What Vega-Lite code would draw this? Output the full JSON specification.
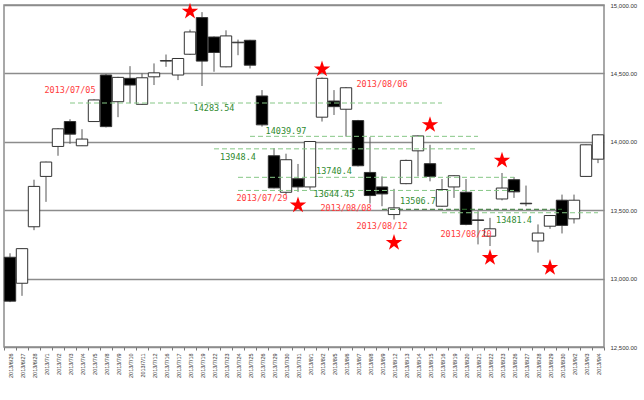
{
  "$schema": "https://vega.github.io/schema/vega-lite/v6.json",
  "width": 600,
  "height": 342,
  "autosize": {"type": "none"},
  "padding": {"left": 4, "top": 5, "right": 40, "bottom": 53},
  "background": "white",
  "config": {
    "view": {"stroke": "#8c8c8c", "strokeWidth": 1.5},
    "font": "Liberation Sans"
  },
  "datasets": {
    "candles": [
      {"date": "2013/6/26", "open": 13156, "high": 13185, "low": 12828, "close": 12835},
      {"date": "2013/6/27", "open": 12966, "high": 13220, "low": 12874, "close": 13219},
      {"date": "2013/6/28", "open": 13379, "high": 13723, "low": 13354, "close": 13674},
      {"date": "2013/7/1", "open": 13747, "high": 13855, "low": 13561, "close": 13852},
      {"date": "2013/7/2", "open": 13966, "high": 14100, "low": 13898, "close": 14095},
      {"date": "2013/7/3", "open": 14148, "high": 14165, "low": 13985, "close": 14056},
      {"date": "2013/7/4", "open": 13971, "high": 14092, "low": 13970, "close": 14020},
      {"date": "2013/7/5", "open": 14148, "high": 14310, "low": 14145, "close": 14306},
      {"date": "2013/7/8", "open": 14488, "high": 14495, "low": 14105, "close": 14111},
      {"date": "2013/7/9", "open": 14293, "high": 14475, "low": 14180, "close": 14471},
      {"date": "2013/7/10", "open": 14464, "high": 14553, "low": 14282, "close": 14415},
      {"date": "2013/7/11", "open": 14274, "high": 14500, "low": 14270, "close": 14468},
      {"date": "2013/7/12", "open": 14475, "high": 14573, "low": 14415, "close": 14504},
      {"date": "2013/7/16", "open": 14590, "high": 14638, "low": 14548, "close": 14594},
      {"date": "2013/7/17", "open": 14488, "high": 14612, "low": 14451, "close": 14609},
      {"date": "2013/7/18", "open": 14640, "high": 14820, "low": 14635, "close": 14803},
      {"date": "2013/7/19", "open": 14908, "high": 14948, "low": 14408, "close": 14590},
      {"date": "2013/7/22", "open": 14766, "high": 14770, "low": 14512, "close": 14653},
      {"date": "2013/7/23", "open": 14548, "high": 14815, "low": 14545, "close": 14774},
      {"date": "2013/7/24", "open": 14724, "high": 14747, "low": 14633, "close": 14728},
      {"date": "2013/7/25", "open": 14742, "high": 14745, "low": 14536, "close": 14560},
      {"date": "2013/7/26", "open": 14335, "high": 14378, "low": 14111, "close": 14124},
      {"date": "2013/7/29", "open": 13898, "high": 13954, "low": 13660, "close": 13663},
      {"date": "2013/7/30", "open": 13631, "high": 13913, "low": 13614, "close": 13869},
      {"date": "2013/7/31", "open": 13730, "high": 13838, "low": 13634, "close": 13670},
      {"date": "2013/8/1", "open": 13670, "high": 14005, "low": 13650, "close": 14002},
      {"date": "2013/8/2", "open": 14180, "high": 14470, "low": 14148, "close": 14464},
      {"date": "2013/8/5", "open": 14298, "high": 14378, "low": 14196, "close": 14257},
      {"date": "2013/8/6", "open": 14238, "high": 14400, "low": 14038, "close": 14395},
      {"date": "2013/8/7", "open": 14155, "high": 14160, "low": 13820, "close": 13825},
      {"date": "2013/8/8", "open": 13776, "high": 14034, "low": 13549, "close": 13607},
      {"date": "2013/8/9", "open": 13670, "high": 13747, "low": 13529, "close": 13619},
      {"date": "2013/8/12", "open": 13468, "high": 13656, "low": 13432, "close": 13517},
      {"date": "2013/8/13", "open": 13694, "high": 13870, "low": 13690, "close": 13864},
      {"date": "2013/8/14", "open": 13934, "high": 14046, "low": 13747, "close": 14043},
      {"date": "2013/8/15", "open": 13840, "high": 13978, "low": 13711, "close": 13747},
      {"date": "2013/8/16", "open": 13529, "high": 13728, "low": 13525, "close": 13651},
      {"date": "2013/8/19", "open": 13670, "high": 13755, "low": 13590, "close": 13752},
      {"date": "2013/8/20", "open": 13631, "high": 13728, "low": 13390, "close": 13396},
      {"date": "2013/8/21", "open": 13429, "high": 13492, "low": 13250, "close": 13425},
      {"date": "2013/8/22", "open": 13310, "high": 13444, "low": 13238, "close": 13364},
      {"date": "2013/8/23", "open": 13582, "high": 13772, "low": 13572, "close": 13662},
      {"date": "2013/8/26", "open": 13723, "high": 13743, "low": 13590, "close": 13634},
      {"date": "2013/8/27", "open": 13551, "high": 13680, "low": 13529, "close": 13547},
      {"date": "2013/8/28", "open": 13275, "high": 13396, "low": 13190, "close": 13333},
      {"date": "2013/8/29", "open": 13383, "high": 13465, "low": 13364, "close": 13461},
      {"date": "2013/8/30", "open": 13573, "high": 13614, "low": 13330, "close": 13389},
      {"date": "2013/9/2", "open": 13437, "high": 13614, "low": 13403, "close": 13573},
      {"date": "2013/9/3", "open": 13747, "high": 13980, "low": 13745, "close": 13978},
      {"date": "2013/9/4", "open": 13873, "high": 14055, "low": 13844, "close": 14051}
    ],
    "levels": [
      {"level": 14283.54, "start": "2013/7/3", "end": "2013/8/16", "kind": "light", "ldate": "2013/7/22", "lvalue": 14247},
      {"level": 14039.97, "start": "2013/7/25", "end": "2013/8/21", "kind": "light", "ldate": "2013/7/30", "lvalue": 14080},
      {"level": 13948.4, "start": "2013/7/22", "end": "2013/8/21", "kind": "light", "ldate": "2013/7/24", "lvalue": 13891},
      {"level": 13740.4, "start": "2013/7/24", "end": "2013/8/26", "kind": "light", "ldate": "2013/8/5", "lvalue": 13789},
      {"level": 13644.45, "start": "2013/7/24", "end": "2013/8/26", "kind": "light", "ldate": "2013/8/5", "lvalue": 13621},
      {"level": 13506.7, "start": "2013/8/9", "end": "2013/8/30", "kind": "dark", "ldate": "2013/8/14", "lvalue": 13570},
      {"level": 13481.4, "start": "2013/8/16", "end": "2013/9/4", "kind": "light", "ldate": "2013/8/26", "lvalue": 13432}
    ],
    "datelabels": [
      {"text": "2013/07/05", "date": "2013/7/3", "value": 14379},
      {"text": "2013/08/06", "date": "2013/8/9", "value": 14422},
      {"text": "2013/07/29", "date": "2013/7/26", "value": 13592},
      {"text": "2013/08/08", "date": "2013/8/6", "value": 13519},
      {"text": "2013/08/12", "date": "2013/8/9", "value": 13388},
      {"text": "2013/08/20", "date": "2013/8/20", "value": 13323}
    ],
    "stars": [
      {"date": "2013/7/18", "value": 14953},
      {"date": "2013/8/2", "value": 14531},
      {"date": "2013/8/15", "value": 14124},
      {"date": "2013/8/23", "value": 13864},
      {"date": "2013/7/31", "value": 13536},
      {"date": "2013/8/12", "value": 13262},
      {"date": "2013/8/22", "value": 13153},
      {"date": "2013/8/29", "value": 13080}
    ]
  },
  "encoding": {
    "x": {
      "field": "date",
      "type": "ordinal",
      "scale": {
        "domain": ["2013/6/26","2013/6/27","2013/6/28","2013/7/1","2013/7/2","2013/7/3","2013/7/4","2013/7/5","2013/7/8","2013/7/9","2013/7/10","2013/7/11","2013/7/12","2013/7/16","2013/7/17","2013/7/18","2013/7/19","2013/7/22","2013/7/23","2013/7/24","2013/7/25","2013/7/26","2013/7/29","2013/7/30","2013/7/31","2013/8/1","2013/8/2","2013/8/5","2013/8/6","2013/8/7","2013/8/8","2013/8/9","2013/8/12","2013/8/13","2013/8/14","2013/8/15","2013/8/16","2013/8/19","2013/8/20","2013/8/21","2013/8/22","2013/8/23","2013/8/26","2013/8/27","2013/8/28","2013/8/29","2013/8/30","2013/9/2","2013/9/3","2013/9/4"],
        "paddingInner": 0,
        "paddingOuter": 0
      },
      "axis": {
        "title": null,
        "labelAngle": -90,
        "labelFontSize": 5.5,
        "labelColor": "#333",
        "labelPadding": 3,
        "tickBand": "extent",
        "tickSize": 3,
        "tickColor": "#777",
        "domain": false,
        "grid": false
      }
    }
  },
  "layer": [
    {
      "data": {"name": "candles"},
      "mark": {"type": "rule", "color": "#555", "strokeWidth": 1},
      "encoding": {
        "y": {
          "field": "low",
          "type": "quantitative",
          "scale": {"domain": [12500, 15000], "nice": false, "zero": false},
          "axis": {
            "title": null,
            "orient": "right",
            "values": [12500, 13000, 13500, 14000, 14500, 15000],
            "format": ",.2f",
            "labelFontSize": 6,
            "labelColor": "#333",
            "labelPadding": 6,
            "ticks": false,
            "domain": false,
            "grid": true,
            "gridColor": "#8c8c8c",
            "gridWidth": 1.5
          }
        },
        "y2": {"field": "high"}
      }
    },
    {
      "data": {"name": "candles"},
      "mark": {"type": "bar", "stroke": "#333", "strokeWidth": 1, "width": {"band": 0.95}},
      "encoding": {
        "y": {"field": "open", "type": "quantitative"},
        "y2": {"field": "close"},
        "fill": {
          "condition": {"test": "datum.open > datum.close", "value": "#000"},
          "value": "#fff"
        }
      }
    },
    {
      "data": {"name": "levels"},
      "mark": {"type": "rule", "strokeWidth": 1, "strokeDash": [5, 3]},
      "encoding": {
        "x": {"field": "start", "type": "ordinal"},
        "x2": {"field": "end"},
        "y": {"field": "level", "type": "quantitative"},
        "color": {
          "condition": {"test": "datum.kind == 'dark'", "value": "#2f6f2f"},
          "value": "#86c786"
        }
      }
    },
    {
      "data": {"name": "levels"},
      "mark": {"type": "text", "font": "DejaVu Sans Mono", "fontSize": 8.5, "color": "#2f8a2f", "align": "center", "baseline": "middle"},
      "encoding": {
        "x": {"field": "ldate", "type": "ordinal"},
        "y": {"field": "lvalue", "type": "quantitative"},
        "text": {"field": "level", "type": "quantitative", "format": "~f"}
      }
    },
    {
      "data": {"name": "datelabels"},
      "mark": {"type": "text", "font": "DejaVu Sans Mono", "fontSize": 8.5, "color": "#ff3b3b", "align": "center", "baseline": "middle"},
      "encoding": {
        "x": {"field": "date", "type": "ordinal"},
        "y": {"field": "value", "type": "quantitative"},
        "text": {"field": "text", "type": "nominal"}
      }
    },
    {
      "data": {"name": "stars"},
      "mark": {
        "type": "point",
        "shape": "M0,-1L0.2245,-0.309L0.951,-0.309L0.363,0.118L0.588,0.809L0,0.382L-0.588,0.809L-0.363,0.118L-0.951,-0.309L-0.2245,-0.309Z",
        "size": 300,
        "filled": true,
        "color": "#ff0000",
        "opacity": 1
      },
      "encoding": {
        "x": {"field": "date", "type": "ordinal"},
        "y": {"field": "value", "type": "quantitative"}
      }
    }
  ]
}
